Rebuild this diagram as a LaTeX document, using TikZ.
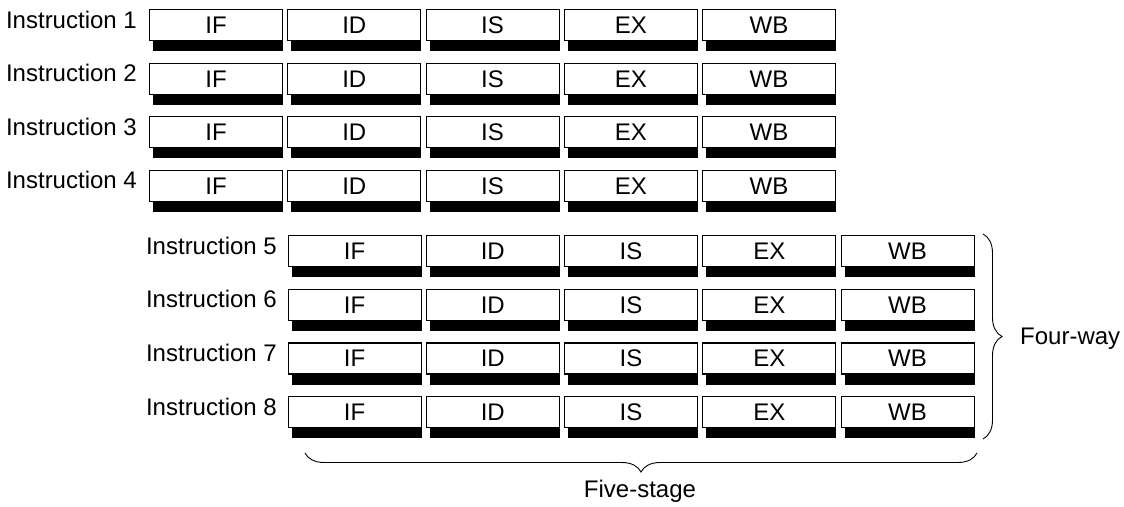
\documentclass[tikz,border=0pt]{standalone}
\usepackage{fontspec}
\setmainfont{Liberation Sans}
\usetikzlibrary{decorations.pathreplacing}
\begin{document}
\begin{tikzpicture}[x=1pt,y=-1pt,
  txt/.style={font=\fontsize{24}{28}\selectfont,inner sep=0pt},
  stage/.style={txt,draw,line width=1.1pt,minimum width=133pt,minimum height=31pt,
    anchor=north west,fill=white,text height=17pt,text depth=0pt},
  shadowfill/.style={fill=black},
  bracestyle/.style={decorate,decoration={brace,amplitude=19pt},line width=0.9pt}]
\useasboundingbox (0,0) rectangle (1124,506);
% upper group
\foreach \r in {1,...,4}{
  \pgfmathsetmacro{\top}{9+53.5*(\r-1)}
  \foreach \s [count=\c] in {IF,ID,IS,EX,WB}{
    \pgfmathsetmacro{\xx}{149+138.25*(\c-1)}
    \node[stage] (b\r-\c) at (\xx,\top) {};
    \fill[shadowfill] ([xshift=4pt]b\r-\c.south west) rectangle ([yshift=-10pt]b\r-\c.south east);
    \node[stage] at (\xx,\top) {\s};
  }
  \node[txt,anchor=base east] (l\r) at (137,\top+19) {Instruction \r};
}
% lower group
\foreach \r in {5,...,8}{
  \pgfmathsetmacro{\top}{235+53.7*(\r-5)}
  \foreach \s [count=\c] in {IF,ID,IS,EX,WB}{
    \pgfmathsetmacro{\xx}{287.5+138.25*(\c-1)}
    \node[stage] (b\r-\c) at (\xx,\top) {};
    \fill[shadowfill] ([xshift=4pt]b\r-\c.south west) rectangle ([yshift=-10pt]b\r-\c.south east);
    \node[stage] at (\xx,\top) {\s};
  }
  \node[txt,anchor=base east] (l\r) at (277,\top+19) {Instruction \r};
}
\coordinate (rt) at (983,234);
\coordinate (rb) at (983,439);
\draw[bracestyle] (rt) -- (rb);
\node[txt,anchor=base west] (four) at (1020,344) {Four-way};
\coordinate (br) at (977,453);
\coordinate (bl) at (305,453);
\draw[bracestyle] (br) -- (bl);
\node[txt,anchor=base] (five) at (640,497) {Five-stage};
\end{tikzpicture}
\end{document}
